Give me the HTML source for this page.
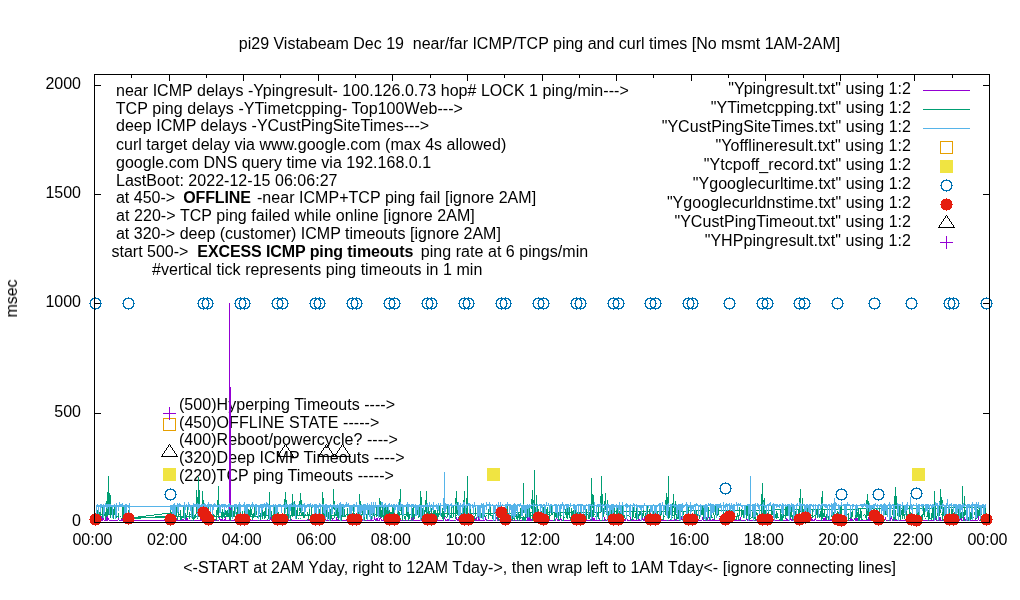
<!DOCTYPE html>
<html><head><meta charset="utf-8"><style>
html,body{margin:0;padding:0;background:#fff;width:1020px;height:600px;overflow:hidden}
svg{display:block}
text{font-family:"Liberation Sans",Arial,sans-serif;font-size:16px;fill:#000}
</style></head><body>
<svg width="1020" height="600" viewBox="0 0 1020 600">
<rect width="1020" height="600" fill="#fff"/>
<defs><path id="oc" d="M-3 -5h1v1h-1zM-3 5h1v1h-1zM-2 -5h1v1h-1zM-2 5h1v1h-1zM-1 -5h1v1h-1zM-1 5h1v1h-1zM0 -5h1v1h-1zM0 5h1v1h-1zM1 -5h1v1h-1zM1 5h1v1h-1zM2 -5h1v1h-1zM2 5h1v1h-1zM3 -5h1v1h-1zM3 5h1v1h-1zM-4 -4h1v1h-1zM-4 4h1v1h-1zM-3 -4h1v1h-1zM-3 4h1v1h-1zM3 -4h1v1h-1zM3 4h1v1h-1zM4 -4h1v1h-1zM4 4h1v1h-1zM-5 -3h1v1h-1zM-5 3h1v1h-1zM-4 -3h1v1h-1zM-4 3h1v1h-1zM4 -3h1v1h-1zM4 3h1v1h-1zM5 -3h1v1h-1zM5 3h1v1h-1zM-5 -2h1v1h-1zM5 -2h1v1h-1zM-5 -1h1v1h-1zM5 -1h1v1h-1zM-5 0h1v1h-1zM5 0h1v1h-1zM-5 1h1v1h-1zM5 1h1v1h-1zM-5 2h1v1h-1zM5 2h1v1h-1zM0 -6h1v1h-1zM0 6h1v1h-1zM-6 0h1v1h-1zM6 0h1v1h-1z"/><path id="fc" d="M-3 -5h1v1h-1zM-3 5h1v1h-1zM-2 -5h1v1h-1zM-2 5h1v1h-1zM-1 -5h1v1h-1zM-1 5h1v1h-1zM0 -5h1v1h-1zM0 5h1v1h-1zM1 -5h1v1h-1zM1 5h1v1h-1zM2 -5h1v1h-1zM2 5h1v1h-1zM3 -5h1v1h-1zM3 5h1v1h-1zM-4 -4h1v1h-1zM-4 4h1v1h-1zM-3 -4h1v1h-1zM-3 4h1v1h-1zM-2 -4h1v1h-1zM-2 4h1v1h-1zM-1 -4h1v1h-1zM-1 4h1v1h-1zM0 -4h1v1h-1zM0 4h1v1h-1zM1 -4h1v1h-1zM1 4h1v1h-1zM2 -4h1v1h-1zM2 4h1v1h-1zM3 -4h1v1h-1zM3 4h1v1h-1zM4 -4h1v1h-1zM4 4h1v1h-1zM-5 -3h1v1h-1zM-4 -3h1v1h-1zM-3 -3h1v1h-1zM-2 -3h1v1h-1zM-1 -3h1v1h-1zM0 -3h1v1h-1zM1 -3h1v1h-1zM2 -3h1v1h-1zM3 -3h1v1h-1zM4 -3h1v1h-1zM5 -3h1v1h-1zM-5 -2h1v1h-1zM-4 -2h1v1h-1zM-3 -2h1v1h-1zM-2 -2h1v1h-1zM-1 -2h1v1h-1zM0 -2h1v1h-1zM1 -2h1v1h-1zM2 -2h1v1h-1zM3 -2h1v1h-1zM4 -2h1v1h-1zM5 -2h1v1h-1zM-5 -1h1v1h-1zM-4 -1h1v1h-1zM-3 -1h1v1h-1zM-2 -1h1v1h-1zM-1 -1h1v1h-1zM0 -1h1v1h-1zM1 -1h1v1h-1zM2 -1h1v1h-1zM3 -1h1v1h-1zM4 -1h1v1h-1zM5 -1h1v1h-1zM-5 0h1v1h-1zM-4 0h1v1h-1zM-3 0h1v1h-1zM-2 0h1v1h-1zM-1 0h1v1h-1zM0 0h1v1h-1zM1 0h1v1h-1zM2 0h1v1h-1zM3 0h1v1h-1zM4 0h1v1h-1zM5 0h1v1h-1zM-5 1h1v1h-1zM-4 1h1v1h-1zM-3 1h1v1h-1zM-2 1h1v1h-1zM-1 1h1v1h-1zM0 1h1v1h-1zM1 1h1v1h-1zM2 1h1v1h-1zM3 1h1v1h-1zM4 1h1v1h-1zM5 1h1v1h-1zM-5 2h1v1h-1zM-4 2h1v1h-1zM-3 2h1v1h-1zM-2 2h1v1h-1zM-1 2h1v1h-1zM0 2h1v1h-1zM1 2h1v1h-1zM2 2h1v1h-1zM3 2h1v1h-1zM4 2h1v1h-1zM5 2h1v1h-1zM-5 3h1v1h-1zM-4 3h1v1h-1zM-3 3h1v1h-1zM-2 3h1v1h-1zM-1 3h1v1h-1zM0 3h1v1h-1zM1 3h1v1h-1zM2 3h1v1h-1zM3 3h1v1h-1zM4 3h1v1h-1zM5 3h1v1h-1zM0 -6h1v1h-1zM0 6h1v1h-1zM-6 0h1v1h-1zM6 0h1v1h-1z"/></defs>
<path d="M95.0 522.5h6M989.0 522.5h-6" stroke="#000" shape-rendering="crispEdges"/>
<path d="M95.0 413.5h6M989.0 413.5h-6" stroke="#000" shape-rendering="crispEdges"/>
<path d="M95.0 303.5h6M989.0 303.5h-6" stroke="#000" shape-rendering="crispEdges"/>
<path d="M95.0 194.5h6M989.0 194.5h-6" stroke="#000" shape-rendering="crispEdges"/>
<path d="M95.0 85.5h6M989.0 85.5h-6" stroke="#000" shape-rendering="crispEdges"/>
<path d="M94.5 522.5v-6M94.5 74.5v6" stroke="#000" shape-rendering="crispEdges"/>
<path d="M131.5 522.5v-3M131.5 74.5v3" stroke="#000" shape-rendering="crispEdges"/>
<path d="M169.5 522.5v-6M169.5 74.5v6" stroke="#000" shape-rendering="crispEdges"/>
<path d="M206.5 522.5v-3M206.5 74.5v3" stroke="#000" shape-rendering="crispEdges"/>
<path d="M243.5 522.5v-6M243.5 74.5v6" stroke="#000" shape-rendering="crispEdges"/>
<path d="M280.5 522.5v-3M280.5 74.5v3" stroke="#000" shape-rendering="crispEdges"/>
<path d="M318.5 522.5v-6M318.5 74.5v6" stroke="#000" shape-rendering="crispEdges"/>
<path d="M355.5 522.5v-3M355.5 74.5v3" stroke="#000" shape-rendering="crispEdges"/>
<path d="M392.5 522.5v-6M392.5 74.5v6" stroke="#000" shape-rendering="crispEdges"/>
<path d="M430.5 522.5v-3M430.5 74.5v3" stroke="#000" shape-rendering="crispEdges"/>
<path d="M467.5 522.5v-6M467.5 74.5v6" stroke="#000" shape-rendering="crispEdges"/>
<path d="M504.5 522.5v-3M504.5 74.5v3" stroke="#000" shape-rendering="crispEdges"/>
<path d="M542.5 522.5v-6M542.5 74.5v6" stroke="#000" shape-rendering="crispEdges"/>
<path d="M579.5 522.5v-3M579.5 74.5v3" stroke="#000" shape-rendering="crispEdges"/>
<path d="M616.5 522.5v-6M616.5 74.5v6" stroke="#000" shape-rendering="crispEdges"/>
<path d="M653.5 522.5v-3M653.5 74.5v3" stroke="#000" shape-rendering="crispEdges"/>
<path d="M691.5 522.5v-6M691.5 74.5v6" stroke="#000" shape-rendering="crispEdges"/>
<path d="M728.5 522.5v-3M728.5 74.5v3" stroke="#000" shape-rendering="crispEdges"/>
<path d="M765.5 522.5v-6M765.5 74.5v6" stroke="#000" shape-rendering="crispEdges"/>
<path d="M803.5 522.5v-3M803.5 74.5v3" stroke="#000" shape-rendering="crispEdges"/>
<path d="M840.5 522.5v-6M840.5 74.5v6" stroke="#000" shape-rendering="crispEdges"/>
<path d="M877.5 522.5v-3M877.5 74.5v3" stroke="#000" shape-rendering="crispEdges"/>
<path d="M914.5 522.5v-6M914.5 74.5v6" stroke="#000" shape-rendering="crispEdges"/>
<path d="M952.5 522.5v-3M952.5 74.5v3" stroke="#000" shape-rendering="crispEdges"/>
<path d="M989.5 522.5v-6M989.5 74.5v6" stroke="#000" shape-rendering="crispEdges"/>
<g style="filter:grayscale(1)">
<text x="539.5" y="48.8" text-anchor="middle" xml:space="preserve">pi29 Vistabeam Dec 19  near/far ICMP/TCP ping and curl times [No msmt 1AM-2AM]</text>
<text transform="translate(17,298.5) rotate(-90)" text-anchor="middle">msec</text>
<text x="81" y="525.9" text-anchor="end" >0</text>
<text x="81" y="416.6" text-anchor="end" >500</text>
<text x="81" y="307.4" text-anchor="end" >1000</text>
<text x="81" y="198.1" text-anchor="end" >1500</text>
<text x="81" y="88.9" text-anchor="end" >2000</text>
<text x="92.5" y="545" text-anchor="middle" >00:00</text>
<text x="167.1" y="545" text-anchor="middle" >02:00</text>
<text x="241.7" y="545" text-anchor="middle" >04:00</text>
<text x="316.2" y="545" text-anchor="middle" >06:00</text>
<text x="390.8" y="545" text-anchor="middle" >08:00</text>
<text x="465.4" y="545" text-anchor="middle" >10:00</text>
<text x="540.0" y="545" text-anchor="middle" >12:00</text>
<text x="614.6" y="545" text-anchor="middle" >14:00</text>
<text x="689.2" y="545" text-anchor="middle" >16:00</text>
<text x="763.8" y="545" text-anchor="middle" >18:00</text>
<text x="838.3" y="545" text-anchor="middle" >20:00</text>
<text x="912.9" y="545" text-anchor="middle" >22:00</text>
<text x="987.5" y="545" text-anchor="middle" >00:00</text>
<text x="539.6" y="573" text-anchor="middle" style="letter-spacing:0.0312px">&lt;-START at 2AM Yday, right to 12AM Tday-&gt;, then wrap left to 1AM Tday&lt;- [ignore connecting lines]</text>
<text x="111.5" y="95.7" text-anchor="start" xml:space="preserve"><tspan style="letter-spacing:0.0358px;"> near ICMP delays -Ypingresult- 100.126.0.73 hop# LOCK 1 ping/min---&gt;</tspan></text>
<text x="111.5" y="113.57" text-anchor="start" xml:space="preserve"><tspan style="letter-spacing:0.0744px;"> TCP ping delays -YTimetcpping- Top100Web---&gt;</tspan></text>
<text x="111.5" y="131.44" text-anchor="start" xml:space="preserve"><tspan style="letter-spacing:0.0385px;"> deep ICMP delays -YCustPingSiteTimes---&gt;</tspan></text>
<text x="111.5" y="150.31" text-anchor="start" xml:space="preserve"><tspan style="letter-spacing:0.0154px;"> curl target delay via www.google.com (max 4s allowed)</tspan></text>
<text x="111.5" y="168.18" text-anchor="start" xml:space="preserve"><tspan style="letter-spacing:0.0300px;"> google.com DNS query time via 192.168.0.1</tspan></text>
<text x="111.5" y="185.95" text-anchor="start" xml:space="preserve"><tspan style="letter-spacing:0.0321px;"> LastBoot: 2022-12-15 06:06:27</tspan></text>
<text x="111.5" y="202.92" text-anchor="start" xml:space="preserve"><tspan> at 450-&gt;  </tspan><tspan font-weight="bold" dx="-0.8" style="letter-spacing:-0.12px">OFFLINE</tspan><tspan style="letter-spacing:0.0444px;" dx="1.64"> -near ICMP+TCP ping fail [ignore 2AM]</tspan></text>
<text x="111.5" y="220.79" text-anchor="start" xml:space="preserve"><tspan style="letter-spacing:0.0633px;"> at 220-&gt; TCP ping failed while online [ignore 2AM]</tspan></text>
<text x="111.5" y="238.66" text-anchor="start" xml:space="preserve"><tspan style="letter-spacing:0.0120px;"> at 320-&gt; deep (customer) ICMP timeouts [ignore 2AM]</tspan></text>
<text x="111.5" y="256.53" text-anchor="start" xml:space="preserve"><tspan>start 500-&gt;  </tspan><tspan font-weight="bold" style="letter-spacing:-0.1px">EXCESS ICMP ping timeouts</tspan><tspan style="letter-spacing:0.0435px;" dx="-1.4">  ping rate at 6 pings/min</tspan></text>
<text x="111.5" y="275.3" text-anchor="start" xml:space="preserve"><tspan style="letter-spacing:0.0479px;">         #vertical tick represents ping timeouts in 1 min</tspan></text>
<text x="911.065" y="93.9" text-anchor="end" style="letter-spacing:0.0654px">"Ypingresult.txt" using 1:2</text>
<text x="911.033" y="112.9" text-anchor="end" style="letter-spacing:0.0333px">"YTimetcpping.txt" using 1:2</text>
<text x="911.033" y="131.9" text-anchor="end" style="letter-spacing:0.0333px">"YCustPingSiteTimes.txt" using 1:2</text>
<text x="911.097" y="150.9" text-anchor="end" style="letter-spacing:0.0966px">"Yofflineresult.txt" using 1:2</text>
<text x="911.048" y="169.9" text-anchor="end" style="letter-spacing:0.0483px">"Ytcpoff_record.txt" using 1:2</text>
<text x="911.047" y="188.9" text-anchor="end" style="letter-spacing:0.0467px">"Ygooglecurltime.txt" using 1:2</text>
<text x="911.045" y="207.9" text-anchor="end" style="letter-spacing:0.0455px">"Ygooglecurldnstime.txt" using 1:2</text>
<text x="911.055" y="226.9" text-anchor="end" style="letter-spacing:0.0548px">"YCustPingTimeout.txt" using 1:2</text>
<text x="911.071" y="245.9" text-anchor="end" style="letter-spacing:0.0714px">"YHPpingresult.txt" using 1:2</text>
<text x="179" y="410.2" text-anchor="start" style="letter-spacing:0.0464px">(500)Hyperping Timeouts ----&gt;</text>
<text x="179" y="427.8" text-anchor="start" style="letter-spacing:0.0542px">(450)OFFLINE STATE -----&gt;</text>
<text x="179" y="445.4" text-anchor="start" style="letter-spacing:0.0464px">(400)Reboot/powercycle? ----&gt;</text>
<text x="179" y="463.0" text-anchor="start" style="letter-spacing:0.0464px">(320)Deep ICMP Timeouts ----&gt;</text>
<text x="179" y="480.6" text-anchor="start" style="letter-spacing:0.0464px">(220)TCP ping Timeouts -----&gt;</text>
</g>
<polyline fill="none" stroke="#9400d3" stroke-width="1" shape-rendering="crispEdges" points="95.50,520.5 96.12,520.5 96.74,520.5 97.36,520.5 97.98,520.5 98.60,520.5 99.22,520.5 99.84,520.5 100.46,520.5 101.08,520.5 101.70,517.4 102.32,518.9 102.94,520.5 103.56,519.4 104.18,520.5 104.80,520.5 105.42,520.5 106.04,520.5 106.66,518.1 107.28,517.1 107.90,520.5 108.52,517.9 109.14,520.5 109.76,520.5 110.38,520.5 111.00,520.5 111.62,520.5 112.24,520.5 112.86,520.5 113.48,520.5 114.10,520.5 114.72,520.5 115.34,520.5 115.96,520.5 116.58,520.5 117.20,520.5 117.82,520.5 118.44,518.8 119.06,520.5 119.68,520.5 120.30,520.5 120.92,520.5 121.54,520.5 122.16,517.1 122.78,520.5 123.40,520.5 124.02,520.5 124.64,520.5 125.26,518.4 125.88,520.5 126.50,520.5 127.12,517.5 127.74,520.5 128.36,520.5 128.98,520.5 129.60,520.5 170.00,520.5 170.62,520.5 171.24,520.5 171.86,520.5 172.48,520.5 173.10,520.5 173.72,520.5 174.34,520.5 174.96,520.5 175.58,520.5 176.20,517.8 176.82,520.5 177.44,520.5 178.06,520.5 178.68,520.5 179.30,520.5 179.92,520.5 180.54,520.5 181.16,520.5 181.78,520.5 182.40,520.5 183.02,519.5 183.64,520.5 184.26,520.5 184.88,520.5 185.50,520.5 186.12,520.5 186.74,516.8 187.36,520.5 187.98,520.5 188.60,520.5 189.22,520.5 189.84,520.5 190.46,520.5 191.08,520.5 191.70,520.5 192.32,520.5 192.94,520.5 193.56,520.5 194.18,520.5 194.80,520.5 195.42,520.5 196.04,520.5 196.66,520.5 197.28,520.5 197.90,520.5 198.52,520.5 199.14,520.5 199.76,520.5 200.38,520.5 201.00,516.6 201.62,520.5 202.24,520.5 202.86,520.5 203.48,520.5 204.10,520.5 204.72,520.5 205.34,520.5 205.96,520.5 206.58,520.5 207.20,517.2 207.82,520.5 208.44,520.5 209.06,520.5 209.68,520.5 210.30,520.5 210.92,520.5 211.54,517.3 212.16,520.5 212.78,517.0 213.40,520.5 214.02,520.5 214.64,520.5 215.26,520.5 215.88,520.5 216.50,520.5 217.12,520.5 217.74,520.5 218.36,520.5 218.98,520.5 219.60,516.6 220.22,520.5 220.84,520.5 221.46,520.5 222.08,518.4 222.70,520.5 223.32,520.5 223.94,520.5 224.56,520.5 225.18,518.1 225.80,520.5 226.42,520.5 227.04,520.5 227.66,520.5 228.28,520.5 228.90,520.5 229.52,520.5 230.14,520.5 230.76,520.5 231.38,520.5 232.00,520.5 232.62,520.5 233.24,520.5 233.86,520.5 234.48,520.5 235.10,520.5 235.72,520.5 236.34,520.5 236.96,518.4 237.58,520.5 238.20,520.5 238.82,520.5 239.44,520.5 240.06,520.5 240.68,520.5 241.30,520.5 241.92,520.5 242.54,518.8 243.16,518.3 243.78,520.5 244.40,520.5 245.02,520.5 245.64,520.5 246.26,520.5 246.88,520.5 247.50,520.5 248.12,517.4 248.74,520.5 249.36,520.5 249.98,520.5 250.60,520.5 251.22,520.5 251.84,520.5 252.46,520.5 253.08,520.5 253.70,520.5 254.32,520.5 254.94,520.5 255.56,520.5 256.18,520.5 256.80,520.5 257.42,520.5 258.04,520.5 258.66,520.5 259.28,520.5 259.90,520.5 260.52,520.5 261.14,520.5 261.76,520.5 262.38,520.5 263.00,520.5 263.62,520.5 264.24,520.5 264.86,520.5 265.48,520.5 266.10,520.5 266.72,520.5 267.34,520.5 267.96,520.5 268.58,520.5 269.20,520.5 269.82,520.5 270.44,516.6 271.06,520.5 271.68,518.6 272.30,520.5 272.92,520.5 273.54,520.5 274.16,516.9 274.78,520.5 275.40,519.0 276.02,520.5 276.64,520.5 277.26,518.4 277.88,520.5 278.50,520.5 279.12,520.5 279.74,520.5 280.36,520.5 280.98,520.5 281.60,520.5 282.22,520.5 282.84,520.5 283.46,517.9 284.08,520.5 284.70,520.5 285.32,520.5 285.94,520.5 286.56,520.5 287.18,520.5 287.80,520.5 288.42,520.5 289.04,520.5 289.66,520.5 290.28,520.5 290.90,519.3 291.52,520.5 292.14,520.5 292.76,520.5 293.38,520.5 294.00,520.5 294.62,520.5 295.24,520.5 295.86,520.5 296.48,520.5 297.10,520.5 297.72,520.5 298.34,520.5 298.96,520.5 299.58,520.5 300.20,520.5 300.82,520.5 301.44,520.5 302.06,520.5 302.68,520.5 303.30,520.5 303.92,520.5 304.54,520.5 305.16,520.5 305.78,520.5 306.40,520.5 307.02,520.5 307.64,520.5 308.26,517.8 308.88,520.5 309.50,520.5 310.12,520.5 310.74,518.9 311.36,518.9 311.98,520.5 312.60,520.5 313.22,520.5 313.84,520.5 314.46,520.5 315.08,520.5 315.70,520.5 316.32,520.5 316.94,520.5 317.56,520.5 318.18,520.5 318.80,520.5 319.42,517.2 320.04,520.5 320.66,520.5 321.28,520.5 321.90,520.5 322.52,520.5 323.14,520.5 323.76,520.5 324.38,520.5 325.00,520.5 325.62,520.5 326.24,520.5 326.86,520.5 327.48,520.5 328.10,520.5 328.72,520.5 329.34,520.5 329.96,520.5 330.58,520.5 331.20,520.5 331.82,520.5 332.44,519.4 333.06,520.5 333.68,520.5 334.30,520.5 334.92,520.5 335.54,520.5 336.16,520.5 336.78,518.1 337.40,520.5 338.02,520.5 338.64,520.5 339.26,520.5 339.88,520.5 340.50,520.5 341.12,520.5 341.74,520.5 342.36,520.5 342.98,520.5 343.60,520.5 344.22,520.5 344.84,520.5 345.46,520.5 346.08,520.5 346.70,520.5 347.32,517.1 347.94,520.5 348.56,520.5 349.18,520.5 349.80,520.5 350.42,520.5 351.04,518.7 351.66,520.5 352.28,520.5 352.90,520.5 353.52,520.5 354.14,520.5 354.76,520.5 355.38,520.5 356.00,520.5 356.62,520.5 357.24,520.5 357.86,520.5 358.48,520.5 359.10,520.5 359.72,520.5 360.34,520.5 360.96,520.5 361.58,520.5 362.20,520.5 362.82,520.5 363.44,520.5 364.06,520.5 364.68,520.5 365.30,520.5 365.92,520.5 366.54,520.5 367.16,520.5 367.78,520.5 368.40,520.5 369.02,520.5 369.64,520.5 370.26,520.5 370.88,519.0 371.50,520.5 372.12,520.5 372.74,520.5 373.36,520.5 373.98,520.5 374.60,517.1 375.22,520.5 375.84,520.5 376.46,520.5 377.08,518.0 377.70,520.5 378.32,520.5 378.94,520.5 379.56,520.5 380.18,516.8 380.80,518.2 381.42,520.5 382.04,520.5 382.66,520.5 383.28,520.5 383.90,520.5 384.52,520.5 385.14,520.5 385.76,520.5 386.38,516.7 387.00,520.5 387.62,520.5 388.24,520.5 388.86,520.5 389.48,520.5 390.10,520.5 390.72,520.5 391.34,520.5 391.96,518.6 392.58,520.5 393.20,520.5 393.82,520.5 394.44,520.5 395.06,520.5 395.68,520.5 396.30,520.5 396.92,520.5 397.54,519.2 398.16,520.5 398.78,520.5 399.40,520.5 400.02,520.5 400.64,520.5 401.26,520.5 401.88,520.5 402.50,520.5 403.12,520.5 403.74,520.5 404.36,520.5 404.98,520.5 405.60,520.5 406.22,520.5 406.84,520.5 407.46,520.5 408.08,520.5 408.70,520.5 409.32,520.5 409.94,520.5 410.56,520.5 411.18,520.5 411.80,517.5 412.42,520.5 413.04,517.6 413.66,520.5 414.28,520.5 414.90,520.5 415.52,520.5 416.14,520.5 416.76,520.5 417.38,520.5 418.00,520.5 418.62,520.5 419.24,520.5 419.86,520.5 420.48,520.5 421.10,520.5 421.72,520.5 422.34,520.5 422.96,518.3 423.58,520.5 424.20,520.5 424.82,520.5 425.44,517.1 426.06,520.5 426.68,517.3 427.30,520.5 427.92,520.5 428.54,520.5 429.16,520.5 429.78,520.5 430.40,520.5 431.02,520.5 431.64,520.5 432.26,518.3 432.88,520.5 433.50,519.3 434.12,520.5 434.74,520.5 435.36,520.5 435.98,520.5 436.60,520.5 437.22,519.3 437.84,520.5 438.46,520.5 439.08,520.5 439.70,520.5 440.32,520.5 440.94,520.5 441.56,520.5 442.18,520.5 442.80,520.5 443.42,520.5 444.04,517.2 444.66,517.0 445.28,520.5 445.90,520.5 446.52,520.5 447.14,520.5 447.76,519.5 448.38,520.5 449.00,519.2 449.62,520.5 450.24,520.5 450.86,520.5 451.48,520.5 452.10,520.5 452.72,520.5 453.34,520.5 453.96,520.5 454.58,520.5 455.20,520.5 455.82,520.5 456.44,518.4 457.06,520.5 457.68,520.5 458.30,518.1 458.92,520.5 459.54,520.5 460.16,520.5 460.78,520.5 461.40,520.5 462.02,520.5 462.64,520.5 463.26,520.5 463.88,520.5 464.50,520.5 465.12,520.5 465.74,520.5 466.36,520.5 466.98,519.2 467.60,520.5 468.22,520.5 468.84,520.5 469.46,520.5 470.08,520.5 470.70,520.5 471.32,520.5 471.94,520.5 472.56,520.5 473.18,520.5 473.80,520.5 474.42,520.5 475.04,520.5 475.66,520.5 476.28,516.7 476.90,520.5 477.52,520.5 478.14,520.5 478.76,518.1 479.38,516.8 480.00,520.5 480.62,520.5 481.24,520.5 481.86,520.5 482.48,520.5 483.10,520.5 483.72,520.5 484.34,520.5 484.96,520.5 485.58,516.9 486.20,520.5 486.82,520.5 487.44,520.5 488.06,520.5 488.68,520.5 489.30,520.5 489.92,520.5 490.54,520.5 491.16,520.5 491.78,520.5 492.40,520.5 493.02,520.5 493.64,520.5 494.26,520.5 494.88,520.5 495.50,520.5 496.12,519.1 496.74,516.7 497.36,520.5 497.98,520.5 498.60,520.5 499.22,520.5 499.84,520.5 500.46,517.1 501.08,520.5 501.70,517.4 502.32,520.5 502.94,520.5 503.56,520.5 504.18,520.5 504.80,520.5 505.42,520.5 506.04,520.5 506.66,518.6 507.28,520.5 507.90,520.5 508.52,520.5 509.14,520.5 509.76,520.5 510.38,520.5 511.00,520.5 511.62,520.5 512.24,520.5 512.86,520.5 513.48,520.5 514.10,520.5 514.72,520.5 515.34,520.5 515.96,520.5 516.58,520.5 517.20,520.5 517.82,520.5 518.44,520.5 519.06,520.5 519.68,520.5 520.30,520.5 520.92,520.5 521.54,520.5 522.16,520.5 522.78,520.5 523.40,520.5 524.02,518.0 524.64,520.5 525.26,520.5 525.88,520.5 526.50,520.5 527.12,520.5 527.74,518.1 528.36,520.5 528.98,516.7 529.60,520.5 530.22,520.5 530.84,518.4 531.46,520.5 532.08,520.5 532.70,520.5 533.32,520.5 533.94,520.5 534.56,520.5 535.18,520.5 535.80,520.5 536.42,520.5 537.04,520.5 537.66,520.5 538.28,520.5 538.90,520.5 539.52,520.5 540.14,520.5 540.76,520.5 541.38,520.5 542.00,520.5 542.62,520.5 543.24,520.5 543.86,520.5 544.48,520.5 545.10,520.5 545.72,520.5 546.34,520.5 546.96,520.5 547.58,520.5 548.20,520.5 548.82,520.5 549.44,520.5 550.06,520.5 550.68,520.5 551.30,520.5 551.92,520.5 552.54,520.5 553.16,520.5 553.78,520.5 554.40,520.5 555.02,520.5 555.64,520.5 556.26,517.4 556.88,518.4 557.50,520.5 558.12,520.5 558.74,517.9 559.36,520.5 559.98,520.5 560.60,516.8 561.22,520.5 561.84,520.5 562.46,520.5 563.08,520.5 563.70,520.5 564.32,520.5 564.94,520.5 565.56,520.5 566.18,520.5 566.80,520.5 567.42,520.5 568.04,520.5 568.66,520.5 569.28,520.5 569.90,520.5 570.52,520.5 571.14,520.5 571.76,520.5 572.38,520.5 573.00,520.5 573.62,520.5 574.24,520.5 574.86,519.3 575.48,520.5 576.10,520.5 576.72,520.5 577.34,520.5 577.96,520.5 578.58,520.5 579.20,520.5 579.82,520.5 580.44,517.9 581.06,520.5 581.68,520.5 582.30,520.5 582.92,520.5 583.54,520.5 584.16,520.5 584.78,520.5 585.40,520.5 586.02,520.5 586.64,520.5 587.26,520.5 587.88,520.5 588.50,520.5 589.12,520.5 589.74,520.5 590.36,520.5 590.98,519.0 591.60,520.5 592.22,520.5 592.84,517.3 593.46,520.5 594.08,517.9 594.70,520.5 595.32,520.5 595.94,520.5 596.56,520.5 597.18,520.5 597.80,520.5 598.42,520.5 599.04,520.5 599.66,519.0 600.28,520.5 600.90,520.5 601.52,520.5 602.14,520.5 602.76,520.5 603.38,520.5 604.00,520.5 604.62,517.4 605.24,520.5 605.86,520.5 606.48,520.5 607.10,520.5 607.72,517.7 608.34,520.5 608.96,520.5 609.58,520.5 610.20,520.5 610.82,517.6 611.44,520.5 612.06,520.5 612.68,520.5 613.30,520.5 613.92,519.5 614.54,520.5 615.16,520.5 615.78,520.5 616.40,520.5 617.02,520.5 617.64,520.5 618.26,520.5 618.88,520.5 619.50,520.5 620.12,520.5 620.74,520.5 621.36,520.5 621.98,520.5 622.60,520.5 623.22,520.5 623.84,520.5 624.46,520.5 625.08,520.5 625.70,520.5 626.32,516.9 626.94,518.5 627.56,520.5 628.18,520.5 628.80,520.5 629.42,520.5 630.04,520.5 630.66,517.2 631.28,520.5 631.90,520.5 632.52,520.5 633.14,519.3 633.76,520.5 634.38,520.5 635.00,520.5 635.62,520.5 636.24,520.5 636.86,520.5 637.48,520.5 638.10,520.5 638.72,517.7 639.34,520.5 639.96,520.5 640.58,520.5 641.20,520.5 641.82,520.5 642.44,517.5 643.06,520.5 643.68,520.5 644.30,517.6 644.92,520.5 645.54,520.5 646.16,520.5 646.78,520.5 647.40,520.5 648.02,520.5 648.64,520.5 649.26,520.5 649.88,520.5 650.50,520.5 651.12,520.5 651.74,520.5 652.36,520.5 652.98,520.5 653.60,520.5 654.22,520.5 654.84,520.5 655.46,520.5 656.08,520.5 656.70,520.5 657.32,517.2 657.94,520.5 658.56,520.5 659.18,520.5 659.80,520.5 660.42,520.5 661.04,520.5 661.66,520.5 662.28,520.5 662.90,520.5 663.52,520.5 664.14,520.5 664.76,520.5 665.38,520.5 666.00,520.5 666.62,520.5 667.24,520.5 667.86,520.5 668.48,520.5 669.10,520.5 669.72,520.5 670.34,520.5 670.96,520.5 671.58,520.5 672.20,520.5 672.82,520.5 673.44,520.5 674.06,520.5 674.68,516.6 675.30,520.5 675.92,520.5 676.54,520.5 677.16,520.5 677.78,520.5 678.40,520.5 679.02,520.5 679.64,520.5 680.26,520.5 680.88,520.5 681.50,517.1 682.12,520.5 682.74,520.5 683.36,520.5 683.98,520.5 684.60,520.5 685.22,520.5 685.84,520.5 686.46,520.5 687.08,520.5 687.70,520.5 688.32,518.5 688.94,520.5 689.56,520.5 690.18,520.5 690.80,520.5 691.42,520.5 692.04,520.5 692.66,520.5 693.28,520.5 693.90,520.5 694.52,520.5 695.14,520.5 695.76,520.5 696.38,520.5 697.00,520.5 697.62,520.5 698.24,520.5 698.86,520.5 699.48,520.5 700.10,520.5 700.72,520.5 701.34,520.5 701.96,520.5 702.58,518.7 703.20,520.5 703.82,520.5 704.44,520.5 705.06,520.5 705.68,520.5 706.30,520.5 706.92,516.9 707.54,520.5 708.16,520.5 708.78,520.5 709.40,518.6 710.02,520.5 710.64,520.5 711.26,520.5 711.88,520.5 712.50,520.5 713.12,519.2 713.74,520.5 714.36,520.5 714.98,520.5 715.60,520.5 716.22,520.5 716.84,520.5 717.46,520.5 718.08,520.5 718.70,520.5 719.32,518.9 719.94,520.5 720.56,520.5 721.18,520.5 721.80,517.2 722.42,520.5 723.04,520.5 723.66,519.2 724.28,520.5 724.90,520.5 725.52,520.5 726.14,520.5 726.76,516.6 727.38,520.5 728.00,520.5 728.62,520.5 729.24,520.5 729.86,520.5 730.48,520.5 731.10,520.5 731.72,520.5 732.34,520.5 732.96,520.5 733.58,520.5 734.20,520.5 734.82,520.5 735.44,520.5 736.06,520.5 736.68,520.5 737.30,520.5 737.92,520.5 738.54,520.5 739.16,520.5 739.78,520.5 740.40,516.8 741.02,520.5 741.64,520.5 742.26,520.5 742.88,520.5 743.50,520.5 744.12,520.5 744.74,520.5 745.36,520.5 745.98,520.5 746.60,517.2 747.22,520.5 747.84,520.5 748.46,520.5 749.08,520.5 749.70,520.5 750.32,520.5 750.94,520.5 751.56,520.5 752.18,520.5 752.80,520.5 753.42,520.5 754.04,520.5 754.66,520.5 755.28,520.5 755.90,520.5 756.52,520.5 757.14,520.5 757.76,519.4 758.38,520.5 759.00,520.5 759.62,520.5 760.24,518.3 760.86,520.5 761.48,520.5 762.10,520.5 762.72,517.4 763.34,520.5 763.96,520.5 764.58,520.5 765.20,520.5 765.82,520.5 766.44,520.5 767.06,520.5 767.68,517.9 768.30,520.5 768.92,520.5 769.54,520.5 770.16,520.5 770.78,520.5 771.40,520.5 772.02,520.5 772.64,520.5 773.26,520.5 773.88,520.5 774.50,520.5 775.12,520.5 775.74,520.5 776.36,520.5 776.98,520.5 777.60,520.5 778.22,520.5 778.84,520.5 779.46,520.5 780.08,520.5 780.70,520.5 781.32,520.5 781.94,520.5 782.56,520.5 783.18,520.5 783.80,520.5 784.42,520.5 785.04,520.5 785.66,520.5 786.28,520.5 786.90,518.3 787.52,520.5 788.14,520.5 788.76,520.5 789.38,520.5 790.00,520.5 790.62,518.0 791.24,520.5 791.86,520.5 792.48,520.5 793.10,520.5 793.72,519.2 794.34,520.5 794.96,520.5 795.58,520.5 796.20,520.5 796.82,520.5 797.44,520.5 798.06,517.4 798.68,520.5 799.30,520.5 799.92,520.5 800.54,520.5 801.16,519.0 801.78,520.5 802.40,520.5 803.02,520.5 803.64,520.5 804.26,520.5 804.88,520.5 805.50,517.7 806.12,520.5 806.74,520.5 807.36,520.5 807.98,518.0 808.60,520.5 809.22,520.5 809.84,520.5 810.46,520.5 811.08,520.5 811.70,517.2 812.32,520.5 812.94,520.5 813.56,520.5 814.18,520.5 814.80,520.5 815.42,516.6 816.04,520.5 816.66,520.5 817.28,520.5 817.90,520.5 818.52,520.5 819.14,520.5 819.76,520.5 820.38,520.5 821.00,520.5 821.62,520.5 822.24,520.5 822.86,520.5 823.48,520.5 824.10,517.7 824.72,520.5 825.34,517.5 825.96,520.5 826.58,520.5 827.20,520.5 827.82,520.5 828.44,520.5 829.06,520.5 829.68,520.5 830.30,520.5 830.92,520.5 831.54,520.5 832.16,520.5 832.78,520.5 833.40,520.5 834.02,520.5 834.64,520.5 835.26,520.5 835.88,520.5 836.50,520.5 837.12,520.5 837.74,520.5 838.36,520.5 838.98,520.5 839.60,520.5 840.22,520.5 840.84,518.6 841.46,520.5 842.08,520.5 842.70,517.0 843.32,520.5 843.94,520.5 844.56,520.5 845.18,520.5 845.80,520.5 846.42,520.5 847.04,520.5 847.66,520.5 848.28,520.5 848.90,520.5 849.52,520.5 850.14,520.5 850.76,517.5 851.38,520.5 852.00,519.1 852.62,520.5 853.24,520.5 853.86,520.5 854.48,517.7 855.10,520.5 855.72,517.0 856.34,520.5 856.96,517.4 857.58,520.5 858.20,520.5 858.82,520.5 859.44,520.5 860.06,520.5 860.68,520.5 861.30,520.5 861.92,520.5 862.54,520.5 863.16,520.5 863.78,520.5 864.40,520.5 865.02,520.5 865.64,520.5 866.26,520.5 866.88,520.5 867.50,520.5 868.12,520.5 868.74,516.6 869.36,520.5 869.98,520.5 870.60,520.5 871.22,520.5 871.84,520.5 872.46,520.5 873.08,520.5 873.70,520.5 874.32,520.5 874.94,520.5 875.56,520.5 876.18,520.5 876.80,520.5 877.42,520.5 878.04,517.8 878.66,520.5 879.28,517.7 879.90,520.5 880.52,520.5 881.14,520.5 881.76,520.5 882.38,520.5 883.00,520.5 883.62,520.5 884.24,520.5 884.86,520.5 885.48,517.5 886.10,520.5 886.72,520.5 887.34,520.5 887.96,520.5 888.58,520.5 889.20,520.5 889.82,517.7 890.44,520.5 891.06,517.7 891.68,518.0 892.30,520.5 892.92,520.5 893.54,520.5 894.16,520.5 894.78,517.5 895.40,520.5 896.02,520.5 896.64,520.5 897.26,520.5 897.88,520.5 898.50,520.5 899.12,520.5 899.74,520.5 900.36,520.5 900.98,520.5 901.60,520.5 902.22,520.5 902.84,520.5 903.46,520.5 904.08,520.5 904.70,520.5 905.32,520.5 905.94,520.5 906.56,520.5 907.18,520.5 907.80,520.5 908.42,516.9 909.04,520.5 909.66,520.5 910.28,520.5 910.90,520.5 911.52,520.5 912.14,520.5 912.76,520.5 913.38,520.5 914.00,520.5 914.62,518.1 915.24,520.5 915.86,520.5 916.48,520.5 917.10,520.5 917.72,520.5 918.34,520.5 918.96,520.5 919.58,520.5 920.20,520.5 920.82,520.5 921.44,520.5 922.06,520.5 922.68,520.5 923.30,520.5 923.92,520.5 924.54,520.5 925.16,520.5 925.78,520.5 926.40,520.5 927.02,520.5 927.64,520.5 928.26,520.5 928.88,520.5 929.50,520.5 930.12,520.5 930.74,520.5 931.36,520.5 931.98,520.5 932.60,520.5 933.22,520.5 933.84,520.5 934.46,520.5 935.08,516.7 935.70,518.6 936.32,517.9 936.94,520.5 937.56,520.5 938.18,520.5 938.80,520.5 939.42,520.5 940.04,517.3 940.66,520.5 941.28,520.5 941.90,520.5 942.52,520.5 943.14,520.5 943.76,520.5 944.38,520.5 945.00,520.5 945.62,520.5 946.24,520.5 946.86,520.5 947.48,520.5 948.10,520.5 948.72,520.5 949.34,520.5 949.96,520.5 950.58,520.5 951.20,520.5 951.82,520.5 952.44,520.5 953.06,520.5 953.68,520.5 954.30,518.3 954.92,520.5 955.54,520.5 956.16,520.5 956.78,520.5 957.40,520.5 958.02,520.5 958.64,520.5 959.26,520.5 959.88,520.5 960.50,518.6 961.12,516.6 961.74,520.5 962.36,520.5 962.98,520.5 963.60,520.5 964.22,520.5 964.84,518.1 965.46,520.5 966.08,520.5 966.70,520.5 967.32,520.5 967.94,520.5 968.56,520.5 969.18,520.5 969.80,520.5 970.42,520.5 971.04,520.5 971.66,520.5 972.28,520.5 972.90,520.5 973.52,520.5 974.14,520.5 974.76,520.5 975.38,519.3 976.00,520.5 976.62,520.5 977.24,520.5 977.86,520.5 978.48,518.2 979.10,520.5 979.72,520.5 980.34,520.5 980.96,520.5 981.58,520.5 982.20,520.5 982.82,520.5 983.44,516.7 984.06,520.5 984.68,520.5 985.30,517.0"/>
<polyline points="229.3,520.5 229.7,303.5 230.5,520.5" fill="none" stroke="#9400d3" stroke-width="1" shape-rendering="crispEdges"/>
<path d="M96.5 512V518M97.5 510V521M98.5 510V517M99.5 512V515M100.5 506V517M101.5 514V515M102.5 507V518M103.5 509V518M104.5 507V516M105.5 512V520M106.5 512V517M107.5 512V516M108.5 512V515M109.5 514V515M110.5 512V518M111.5 507V515M112.5 515V516M113.5 509V519M114.5 506V515M115.5 506V516M116.5 506V518M117.5 516V517M118.5 513V518M119.5 520V521M120.5 516V517M121.5 518V519M122.5 506V518M123.5 506V516M124.5 520V521M125.5 514V521M126.5 509V519M127.5 516V517M128.5 510V518M129.5 513V519M170.5 507V515M171.5 512V520M172.5 512V520M173.5 514V515M174.5 508V515M175.5 509V518M176.5 507V517M177.5 517V520M178.5 506V517M179.5 514V515M180.5 510V520M181.5 517V520M182.5 517V518M183.5 506V518M184.5 516V517M185.5 513V520M186.5 515V518M187.5 506V515M188.5 516V517M189.5 512V519M190.5 514V515M191.5 520V521M192.5 507V519M193.5 516V521M194.5 515V519M195.5 514V518M196.5 516V517M197.5 518V519M198.5 513V517M199.5 514V517M200.5 513V519M201.5 517V518M202.5 514V518M203.5 512V519M204.5 510V518M205.5 519V520M206.5 517V518M207.5 514V521M208.5 507V515M209.5 520V521M210.5 515V516M211.5 516V520M212.5 510V521M213.5 514V520M214.5 515V516M215.5 519V520M216.5 510V521M217.5 510V515M218.5 506V518M219.5 519V520M220.5 516V517M221.5 512V518M222.5 509V519M223.5 512V517M224.5 513V518M225.5 510V515M226.5 511V517M227.5 510V517M228.5 511V516M229.5 509V519M230.5 510V521M231.5 506V516M232.5 507V515M233.5 511V517M234.5 506V516M235.5 516V517M236.5 512V517M237.5 506V518M238.5 506V515M239.5 515V516M240.5 506V515M241.5 515V520M242.5 511V521M243.5 516V517M244.5 508V515M245.5 508V520M246.5 514V515M247.5 508V517M248.5 509V517M249.5 510V516M250.5 506V516M251.5 509V515M252.5 514V520M253.5 513V518M254.5 506V516M255.5 513V517M256.5 511V515M257.5 517V518M258.5 520V521M259.5 515V516M260.5 513V520M261.5 513V517M262.5 507V519M263.5 512V515M264.5 511V519M265.5 508V518M266.5 506V515M267.5 519V520M268.5 509V519M269.5 506V517M270.5 512V517M271.5 511V519M272.5 520V521M273.5 513V521M274.5 506V517M275.5 519V520M276.5 506V518M277.5 515V518M278.5 512V515M279.5 515V516M280.5 517V518M281.5 516V517M282.5 519V520M283.5 520V521M284.5 510V521M285.5 517V518M286.5 514V521M287.5 506V519M288.5 509V519M289.5 510V515M290.5 516V521M291.5 506V515M292.5 506V517M293.5 506V515M294.5 506V515M295.5 514V518M296.5 510V519M297.5 506V515M298.5 518V519M299.5 512V515M300.5 518V519M301.5 506V515M302.5 512V515M303.5 512V518M304.5 506V518M305.5 514V515M306.5 520V521M307.5 512V515M308.5 514V520M309.5 507V516M310.5 517V518M311.5 506V518M312.5 514V520M313.5 514V520M314.5 518V519M315.5 516V517M316.5 516V517M317.5 514V515M318.5 519V520M319.5 509V520M320.5 506V515M321.5 520V521M322.5 508V520M323.5 512V519M324.5 511V519M325.5 516V519M326.5 506V517M327.5 519V520M328.5 512V519M329.5 511V517M330.5 509V521M331.5 506V519M332.5 515V516M333.5 518V519M334.5 512V518M335.5 514V515M336.5 506V515M337.5 506V518M338.5 510V520M339.5 510V517M340.5 512V516M341.5 508V521M342.5 507V517M343.5 510V517M344.5 509V517M345.5 516V517M346.5 519V520M347.5 508V519M348.5 518V519M349.5 509V518M350.5 510V516M351.5 509V521M352.5 519V520M353.5 506V519M354.5 513V521M355.5 515V520M356.5 520V521M357.5 512V521M358.5 506V516M359.5 513V520M360.5 507V520M361.5 514V517M362.5 507V515M363.5 507V519M364.5 514V520M365.5 520V521M366.5 514V519M367.5 506V516M368.5 507V515M369.5 510V516M370.5 506V516M371.5 516V519M372.5 506V515M373.5 508V516M374.5 513V517M375.5 520V521M376.5 506V517M377.5 515V516M378.5 513V518M379.5 506V517M380.5 506V517M381.5 510V518M382.5 506V517M383.5 510V520M384.5 506V516M385.5 506V516M386.5 507V520M387.5 506V515M388.5 506V515M389.5 510V521M390.5 512V520M391.5 512V520M392.5 506V516M393.5 508V519M394.5 506V517M395.5 517V518M396.5 514V515M397.5 512V516M398.5 511V517M399.5 512V516M400.5 518V519M401.5 506V515M402.5 509V521M403.5 515V516M404.5 516V519M405.5 516V521M406.5 506V516M407.5 511V517M408.5 508V521M409.5 514V519M410.5 520V521M411.5 517V518M412.5 508V521M413.5 506V517M414.5 515V519M415.5 506V515M416.5 515V516M417.5 506V515M418.5 506V518M419.5 506V517M420.5 518V519M421.5 509V520M422.5 508V516M423.5 515V520M424.5 510V521M425.5 514V515M426.5 506V515M427.5 509V517M428.5 506V515M429.5 511V517M430.5 513V519M431.5 508V521M432.5 519V520M433.5 511V517M434.5 510V517M435.5 510V518M436.5 514V519M437.5 510V519M438.5 513V517M439.5 506V515M440.5 508V516M441.5 513V517M442.5 508V519M443.5 511V521M444.5 508V517M445.5 516V517M446.5 517V518M447.5 506V517M448.5 512V515M449.5 512V519M450.5 515V518M451.5 507V518M452.5 517V518M453.5 506V517M454.5 520V521M455.5 510V519M456.5 515V516M457.5 506V515M458.5 517V518M459.5 512V516M460.5 507V518M461.5 513V518M462.5 515V516M463.5 510V517M464.5 520V521M465.5 512V519M466.5 516V517M467.5 507V520M468.5 515V516M469.5 516V519M470.5 507V520M471.5 519V520M472.5 517V518M473.5 506V515M474.5 516V521M475.5 508V516M476.5 518V519M477.5 517V518M478.5 514V517M479.5 516V519M480.5 517V518M481.5 514V518M482.5 506V515M483.5 509V516M484.5 506V517M485.5 516V517M486.5 515V516M487.5 520V521M488.5 509V519M489.5 514V515M490.5 506V516M491.5 515V516M492.5 515V519M493.5 519V520M494.5 520V521M495.5 512V515M496.5 515V516M497.5 512V519M498.5 515V521M499.5 513V518M500.5 513V517M501.5 507V518M502.5 515V518M503.5 512V520M504.5 507V517M505.5 515V521M506.5 513V521M507.5 506V516M508.5 517V518M509.5 508V519M510.5 515V516M511.5 510V519M512.5 512V521M513.5 516V519M514.5 517V521M515.5 506V517M516.5 514V519M517.5 515V521M518.5 513V518M519.5 514V521M520.5 508V519M521.5 517V518M522.5 517V521M523.5 516V520M524.5 517V521M525.5 508V521M526.5 513V518M527.5 506V517M528.5 514V515M529.5 506V517M530.5 512V519M531.5 515V516M532.5 514V521M533.5 510V516M534.5 514V515M535.5 507V519M536.5 515V520M537.5 506V515M538.5 509V520M539.5 514V515M540.5 506V518M541.5 511V515M542.5 518V519M543.5 507V518M544.5 513V519M545.5 512V520M546.5 509V519M547.5 507V520M548.5 514V515M549.5 509V520M550.5 515V516M551.5 506V515M552.5 506V515M553.5 520V521M554.5 512V521M555.5 506V517M556.5 512V518M557.5 508V518M558.5 512V520M559.5 519V520M560.5 506V518M561.5 515V516M562.5 520V521M563.5 516V521M564.5 517V518M565.5 509V515M566.5 512V518M567.5 507V519M568.5 506V515M569.5 507V518M570.5 517V521M571.5 508V518M572.5 511V520M573.5 510V521M574.5 506V517M575.5 506V517M576.5 518V519M577.5 513V518M578.5 506V516M579.5 513V517M580.5 511V519M581.5 518V521M582.5 514V515M583.5 512V515M584.5 514V515M585.5 510V521M586.5 509V519M587.5 514V515M588.5 506V519M589.5 513V519M590.5 506V517M591.5 509V521M592.5 510V517M593.5 510V517M594.5 514V515M595.5 516V517M596.5 518V519M597.5 512V517M598.5 507V519M599.5 518V519M600.5 520V521M601.5 520V521M602.5 509V519M603.5 508V517M604.5 520V521M605.5 519V520M606.5 514V515M607.5 512V517M608.5 512V517M609.5 517V518M610.5 510V518M611.5 509V518M612.5 515V516M613.5 513V520M614.5 506V516M615.5 519V520M616.5 506V515M617.5 506V517M618.5 513V518M619.5 512V519M620.5 509V520M621.5 511V518M622.5 506V518M623.5 512V518M624.5 515V518M625.5 518V519M626.5 517V518M627.5 515V516M628.5 515V516M629.5 516V517M630.5 520V521M631.5 519V520M632.5 508V520M633.5 507V517M634.5 517V518M635.5 513V518M636.5 507V520M637.5 512V519M638.5 514V519M639.5 512V516M640.5 511V515M641.5 520V521M642.5 513V518M643.5 510V516M644.5 516V517M645.5 513V518M646.5 507V517M647.5 506V518M648.5 519V520M649.5 509V517M650.5 520V521M651.5 520V521M652.5 506V515M653.5 511V518M654.5 506V517M655.5 519V520M656.5 512V519M657.5 511V516M658.5 520V521M659.5 507V515M660.5 512V516M661.5 511V515M662.5 519V520M663.5 515V520M664.5 516V517M665.5 506V515M666.5 511V516M667.5 520V521M668.5 510V519M669.5 507V518M670.5 519V520M671.5 516V517M672.5 517V518M673.5 515V516M674.5 507V519M675.5 520V521M676.5 514V520M677.5 506V519M678.5 510V519M679.5 518V521M680.5 517V518M681.5 516V517M682.5 517V521M683.5 511V515M684.5 517V518M685.5 516V517M686.5 515V516M687.5 508V518M688.5 506V515M689.5 516V517M690.5 517V518M691.5 515V521M692.5 518V519M693.5 514V517M694.5 510V521M695.5 519V520M696.5 511V519M697.5 514V521M698.5 519V520M699.5 515V519M700.5 515V516M701.5 511V515M702.5 506V515M703.5 507V520M704.5 506V517M705.5 510V516M706.5 518V521M707.5 515V519M708.5 507V518M709.5 519V520M710.5 519V520M711.5 512V518M712.5 517V518M713.5 509V515M714.5 515V520M715.5 506V515M716.5 507V515M717.5 506V516M718.5 507V515M719.5 516V517M720.5 518V521M721.5 518V521M722.5 519V520M723.5 509V520M724.5 515V516M725.5 514V515M726.5 520V521M727.5 506V516M728.5 519V520M729.5 516V517M730.5 519V520M731.5 517V521M732.5 514V515M733.5 520V521M734.5 507V517M735.5 519V520M736.5 516V520M737.5 513V517M738.5 515V520M739.5 507V516M740.5 520V521M741.5 509V517M742.5 510V515M743.5 511V518M744.5 506V515M745.5 520V521M746.5 506V519M747.5 506V516M748.5 511V516M749.5 512V520M750.5 518V519M751.5 517V518M752.5 510V518M753.5 517V521M754.5 510V519M755.5 517V521M756.5 512V515M757.5 513V519M758.5 520V521M759.5 519V520M760.5 515V518M761.5 509V518M762.5 517V518M763.5 514V520M764.5 512V521M765.5 511V521M766.5 514V515M767.5 519V520M768.5 507V520M769.5 517V518M770.5 514V520M771.5 506V515M772.5 506V515M773.5 510V515M774.5 515V521M775.5 514V518M776.5 511V519M777.5 513V518M778.5 517V518M779.5 519V520M780.5 509V521M781.5 514V521M782.5 516V521M783.5 508V518M784.5 515V516M785.5 507V519M786.5 506V516M787.5 506V516M788.5 514V515M789.5 506V518M790.5 507V518M791.5 506V517M792.5 515V520M793.5 520V521M794.5 520V521M795.5 511V520M796.5 508V517M797.5 518V519M798.5 509V517M799.5 506V518M800.5 519V520M801.5 506V515M802.5 520V521M803.5 510V520M804.5 520V521M805.5 506V516M806.5 515V518M807.5 508V519M808.5 520V521M809.5 510V515M810.5 506V515M811.5 515V516M812.5 509V518M813.5 516V517M814.5 515V516M815.5 511V518M816.5 509V515M817.5 507V518M818.5 506V516M819.5 514V518M820.5 511V517M821.5 514V521M822.5 507V519M823.5 513V517M824.5 509V517M825.5 516V517M826.5 514V520M827.5 510V517M828.5 516V520M829.5 510V519M830.5 519V520M831.5 506V517M832.5 509V517M833.5 512V521M834.5 516V517M835.5 514V515M836.5 513V520M837.5 511V516M838.5 512V519M839.5 513V517M840.5 506V518M841.5 506V518M842.5 520V521M843.5 515V516M844.5 506V519M845.5 511V521M846.5 514V515M847.5 514V515M848.5 513V521M849.5 518V519M850.5 508V518M851.5 512V519M852.5 507V517M853.5 520V521M854.5 518V519M855.5 514V518M856.5 506V518M857.5 512V517M858.5 508V521M859.5 514V521M860.5 508V518M861.5 511V520M862.5 519V520M863.5 515V516M864.5 514V515M865.5 515V518M866.5 507V520M867.5 519V520M868.5 513V516M869.5 518V519M870.5 506V515M871.5 516V517M872.5 514V515M873.5 507V516M874.5 514V521M875.5 511V518M876.5 508V516M877.5 506V515M878.5 514V515M879.5 506V517M880.5 519V520M881.5 519V520M882.5 516V517M883.5 520V521M884.5 520V521M885.5 508V515M886.5 514V515M887.5 512V517M888.5 520V521M889.5 509V519M890.5 506V515M891.5 516V517M892.5 510V515M893.5 514V521M894.5 509V519M895.5 510V520M896.5 519V520M897.5 512V516M898.5 519V520M899.5 506V517M900.5 515V520M901.5 510V515M902.5 507V519M903.5 506V516M904.5 514V519M905.5 519V520M906.5 511V519M907.5 514V515M908.5 514V515M909.5 506V515M910.5 512V515M911.5 513V516M912.5 515V519M913.5 519V520M914.5 516V517M915.5 519V520M916.5 507V520M917.5 508V515M918.5 507V520M919.5 518V519M920.5 517V521M921.5 515V520M922.5 514V520M923.5 506V515M924.5 509V517M925.5 518V519M926.5 516V517M927.5 507V517M928.5 510V521M929.5 506V519M930.5 518V519M931.5 513V520M932.5 506V518M933.5 507V520M934.5 517V520M935.5 506V518M936.5 516V520M937.5 513V516M938.5 520V521M939.5 506V516M940.5 517V518M941.5 514V515M942.5 510V521M943.5 507V516M944.5 513V516M945.5 506V517M946.5 515V516M947.5 519V520M948.5 511V518M949.5 507V520M950.5 520V521M951.5 509V515M952.5 509V519M953.5 516V517M954.5 512V519M955.5 511V515M956.5 508V515M957.5 514V515M958.5 506V516M959.5 506V519M960.5 512V519M961.5 512V518M962.5 513V518M963.5 512V521M964.5 520V521M965.5 510V515M966.5 511V516M967.5 506V518M968.5 517V521M969.5 510V521M970.5 512V520M971.5 513V519M972.5 510V517M973.5 517V518M974.5 512V515M975.5 519V520M976.5 509V519M977.5 509V518M978.5 510V516M979.5 506V516M980.5 520V521M981.5 508V515M982.5 517V521M983.5 509V519M984.5 506V516M985.5 506V518M108.5 476V514M107.5 499V515M109.5 493V513M110.5 495V514M107.5 492V516M106.5 501V512M109.5 501V513M196.5 490V514M197.5 497V514M198.5 497V516M198.5 477V512M199.5 490V514M202.5 491V515M203.5 500V510M218.5 486V508M217.5 500V514M269.5 492V514M285.5 492V510M284.5 499V512M286.5 500V509M292.5 494V514M294.5 501V508M300.5 493V513M299.5 501V511M301.5 500V508M322.5 492V511M323.5 498V510M333.5 489V509M334.5 501V510M359.5 494V513M360.5 501V516M379.5 498V509M380.5 501V509M400.5 489V511M399.5 499V508M420.5 491V511M421.5 497V509M426.5 491V514M425.5 500V512M456.5 491V513M455.5 498V513M457.5 502V510M464.5 491V515M463.5 500V510M466.5 498V511M467.5 476V510M466.5 499V516M523.5 483V512M532.5 490V515M531.5 499V509M533.5 500V508M534.5 499V511M534.5 470V514M536.5 495V511M591.5 478V509M592.5 494V508M593.5 495V511M601.5 476V511M600.5 496V512M602.5 494V515M605.5 493V510M604.5 501V508M607.5 500V512M666.5 493V516M665.5 500V512M668.5 476V516M667.5 497V509M673.5 494V508M672.5 503V516M675.5 501V515M762.5 483V514M761.5 494V515M763.5 500V516M764.5 498V515M800.5 489V512M799.5 498V511M802.5 498V513M822.5 491V512M821.5 497V516M867.5 494V516M866.5 500V513M868.5 501V516M895.5 487V509M894.5 496V508M896.5 496V509M934.5 491V509M940.5 489V513M939.5 501V514M941.5 497V509M942.5 500V510M962.5 486V511M964.5 496V516" stroke="#009e73" stroke-width="1" fill="none" shape-rendering="crispEdges"/>
<polyline fill="none" stroke="#009e73" stroke-width="1" shape-rendering="crispEdges" points="134.00,517.5 169.70,513.1"/>
<polyline fill="none" stroke="#009e73" stroke-width="1" shape-rendering="crispEdges" points="134.00,518.5 169.70,516.0"/>
<polyline fill="none" stroke="#009e73" stroke-width="1" shape-rendering="crispEdges" points="985.00,507.5 134.00,517.5"/>
<path d="M96.5 505V514M97.5 504V507M98.5 505V520M99.5 505V506M100.5 504V512M101.5 504V508M102.5 505V506M103.5 504V518M104.5 505V514M105.5 503V506M106.5 504V508M107.5 504V509M108.5 504V506M109.5 504V514M110.5 504V506M111.5 505V506M112.5 505V518M113.5 505V507M114.5 504V507M115.5 505V519M116.5 503V516M117.5 505V507M118.5 505V511M119.5 502V507M120.5 504V506M121.5 504V506M122.5 503V506M123.5 505V506M124.5 505V514M125.5 504V519M126.5 504V519M127.5 505V506M128.5 505V508M129.5 503V513M170.5 505V510M171.5 505V510M172.5 505V517M173.5 504V518M174.5 503V516M175.5 505V515M176.5 505V506M177.5 503V513M178.5 504V512M179.5 503V506M180.5 504V506M181.5 505V506M182.5 505V506M183.5 505V506M184.5 502V519M185.5 505V510M186.5 504V506M187.5 505V506M188.5 502V510M189.5 504V506M190.5 505V511M191.5 505V518M192.5 505V506M193.5 503V517M194.5 504V506M195.5 504V506M196.5 504V506M197.5 503V518M198.5 504V515M199.5 504V515M200.5 505V514M201.5 504V506M202.5 504V506M203.5 504V511M204.5 503V506M205.5 504V506M206.5 505V511M207.5 504V518M208.5 502V506M209.5 504V506M210.5 504V516M211.5 504V506M212.5 505V520M213.5 504V510M214.5 503V506M215.5 504V507M216.5 505V506M217.5 505V508M218.5 505V506M219.5 504V513M220.5 505V513M221.5 504V506M222.5 504V508M223.5 504V507M224.5 504V513M225.5 504V507M226.5 505V508M227.5 505V506M228.5 504V513M229.5 503V506M230.5 505V508M231.5 505V506M232.5 505V519M233.5 505V506M234.5 504V506M235.5 504V514M236.5 504V509M237.5 505V507M238.5 504V516M239.5 502V516M240.5 504V512M241.5 505V506M242.5 505V507M243.5 504V506M244.5 502V511M245.5 505V514M246.5 504V514M247.5 504V518M248.5 504V506M249.5 504V506M250.5 505V507M251.5 504V506M252.5 502V509M253.5 504V506M254.5 505V506M255.5 504V516M256.5 504V511M257.5 505V506M258.5 505V519M259.5 505V514M260.5 504V508M261.5 504V517M262.5 504V510M263.5 504V508M264.5 503V507M265.5 504V508M266.5 502V515M267.5 503V506M268.5 504V509M269.5 505V520M270.5 505V517M271.5 505V507M272.5 505V506M273.5 504V514M274.5 505V506M275.5 504V516M276.5 505V514M277.5 505V516M278.5 504V506M279.5 504V506M280.5 504V507M281.5 505V513M282.5 505V506M283.5 504V506M284.5 505V508M285.5 502V513M286.5 504V508M287.5 504V506M288.5 505V514M289.5 504V518M290.5 504V511M291.5 503V506M292.5 505V506M293.5 502V507M294.5 504V506M295.5 504V519M296.5 505V506M297.5 505V508M298.5 504V507M299.5 505V508M300.5 504V508M301.5 505V513M302.5 504V511M303.5 504V507M304.5 503V515M305.5 505V512M306.5 505V508M307.5 504V506M308.5 504V506M309.5 504V509M310.5 503V507M311.5 505V506M312.5 504V508M313.5 505V507M314.5 504V515M315.5 504V515M316.5 504V518M317.5 505V508M318.5 505V520M319.5 503V507M320.5 504V519M321.5 505V506M322.5 504V506M323.5 504V513M324.5 505V514M325.5 504V521M326.5 504V510M327.5 505V520M328.5 505V508M329.5 505V521M330.5 504V507M331.5 505V515M332.5 505V514M333.5 504V506M334.5 504V508M335.5 505V514M336.5 505V510M337.5 504V508M338.5 505V512M339.5 503V518M340.5 502V521M341.5 504V515M342.5 504V506M343.5 504V516M344.5 505V508M345.5 504V507M346.5 502V506M347.5 504V506M348.5 503V506M349.5 505V520M350.5 505V517M351.5 505V520M352.5 505V511M353.5 504V506M354.5 504V512M355.5 505V506M356.5 502V506M357.5 505V519M358.5 505V512M359.5 504V519M360.5 505V520M361.5 504V513M362.5 505V511M363.5 504V521M364.5 504V517M365.5 504V515M366.5 505V510M367.5 503V520M368.5 505V510M369.5 504V517M370.5 505V520M371.5 502V514M372.5 505V519M373.5 502V513M374.5 505V515M375.5 502V508M376.5 505V506M377.5 505V515M378.5 505V518M379.5 504V506M380.5 505V506M381.5 502V508M382.5 502V506M383.5 505V515M384.5 504V508M385.5 503V507M386.5 505V510M387.5 505V506M388.5 504V511M389.5 503V506M390.5 505V506M391.5 504V506M392.5 505V506M393.5 504V508M394.5 504V519M395.5 505V510M396.5 504V506M397.5 505V513M398.5 502V511M399.5 505V511M400.5 502V510M401.5 504V506M402.5 504V515M403.5 505V516M404.5 505V506M405.5 505V506M406.5 504V506M407.5 502V512M408.5 504V512M409.5 504V507M410.5 505V506M411.5 504V517M412.5 504V506M413.5 504V506M414.5 505V508M415.5 504V516M416.5 505V516M417.5 505V510M418.5 505V516M419.5 504V506M420.5 505V521M421.5 505V518M422.5 505V506M423.5 505V517M424.5 505V506M425.5 505V506M426.5 504V507M427.5 503V512M428.5 505V506M429.5 502V506M430.5 505V512M431.5 504V506M432.5 505V510M433.5 502V511M434.5 505V506M435.5 505V506M436.5 504V509M437.5 505V510M438.5 503V511M439.5 505V506M440.5 503V516M441.5 505V506M442.5 505V506M443.5 504V508M444.5 505V513M445.5 503V512M446.5 504V509M447.5 504V506M448.5 504V513M449.5 505V521M450.5 504V506M451.5 503V507M452.5 505V508M453.5 505V506M454.5 505V506M455.5 504V506M456.5 503V506M457.5 505V510M458.5 502V516M459.5 505V521M460.5 503V517M461.5 505V507M462.5 504V520M463.5 502V508M464.5 502V506M465.5 505V520M466.5 504V508M467.5 504V506M468.5 503V506M469.5 503V518M470.5 504V509M471.5 505V506M472.5 504V508M473.5 505V515M474.5 502V507M475.5 505V508M476.5 505V506M477.5 505V518M478.5 505V516M479.5 505V519M480.5 505V518M481.5 503V508M482.5 504V519M483.5 503V520M484.5 505V515M485.5 505V507M486.5 502V510M487.5 504V506M488.5 504V506M489.5 502V512M490.5 504V507M491.5 505V506M492.5 504V506M493.5 505V521M494.5 505V513M495.5 505V520M496.5 504V506M497.5 505V510M498.5 502V507M499.5 505V515M500.5 502V518M501.5 505V507M502.5 504V506M503.5 505V506M504.5 505V506M505.5 504V514M506.5 504V519M507.5 502V506M508.5 504V506M509.5 504V516M510.5 504V510M511.5 505V519M512.5 505V516M513.5 504V518M514.5 503V518M515.5 504V516M516.5 505V511M517.5 504V516M518.5 504V506M519.5 504V507M520.5 503V506M521.5 505V516M522.5 505V516M523.5 504V510M524.5 505V513M525.5 505V514M526.5 505V517M527.5 504V509M528.5 505V518M529.5 504V508M530.5 505V508M531.5 504V506M532.5 505V506M533.5 503V514M534.5 505V506M535.5 504V506M536.5 505V514M537.5 504V506M538.5 505V506M539.5 504V506M540.5 504V512M541.5 504V508M542.5 505V517M543.5 504V506M544.5 504V520M545.5 505V514M546.5 502V506M547.5 505V506M548.5 503V506M549.5 505V511M550.5 504V513M551.5 504V506M552.5 505V513M553.5 505V506M554.5 504V506M555.5 504V513M556.5 504V513M557.5 505V518M558.5 504V506M559.5 505V516M560.5 504V512M561.5 504V509M562.5 502V506M563.5 504V516M564.5 505V510M565.5 504V506M566.5 504V512M567.5 504V508M568.5 504V512M569.5 505V506M570.5 503V507M571.5 505V506M572.5 505V506M573.5 504V509M574.5 504V515M575.5 505V510M576.5 505V521M577.5 504V506M578.5 504V521M579.5 504V506M580.5 504V512M581.5 504V520M582.5 504V506M583.5 505V517M584.5 505V510M585.5 505V519M586.5 504V506M587.5 505V506M588.5 504V515M589.5 504V511M590.5 504V506M591.5 505V519M592.5 504V506M593.5 505V506M594.5 502V513M595.5 505V506M596.5 505V520M597.5 504V507M598.5 504V507M599.5 504V507M600.5 503V512M601.5 505V506M602.5 504V520M603.5 504V506M604.5 505V514M605.5 504V506M606.5 504V514M607.5 504V521M608.5 504V508M609.5 505V518M610.5 505V521M611.5 504V510M612.5 504V518M613.5 504V514M614.5 505V508M615.5 505V507M616.5 504V510M617.5 505V508M618.5 505V517M619.5 502V510M620.5 505V513M621.5 505V519M622.5 502V506M623.5 505V515M624.5 505V506M625.5 504V507M626.5 503V519M627.5 504V508M628.5 505V507M629.5 505V515M630.5 504V517M631.5 505V506M632.5 505V511M633.5 503V506M634.5 504V511M635.5 505V506M636.5 504V508M637.5 505V519M638.5 505V507M639.5 505V508M640.5 505V510M641.5 505V521M642.5 505V508M643.5 505V510M644.5 503V506M645.5 505V506M646.5 505V518M647.5 505V506M648.5 505V508M649.5 505V506M650.5 505V516M651.5 505V512M652.5 505V517M653.5 504V506M654.5 505V514M655.5 505V519M656.5 505V519M657.5 505V507M658.5 504V506M659.5 503V521M660.5 503V514M661.5 505V511M662.5 502V506M663.5 505V515M664.5 505V510M665.5 504V506M666.5 505V516M667.5 504V518M668.5 503V511M669.5 505V506M670.5 504V515M671.5 504V520M672.5 505V506M673.5 504V506M674.5 504V508M675.5 505V507M676.5 504V513M677.5 505V517M678.5 504V510M679.5 504V520M680.5 504V521M681.5 504V511M682.5 503V521M683.5 505V508M684.5 505V507M685.5 504V506M686.5 502V521M687.5 504V514M688.5 505V507M689.5 505V508M690.5 502V515M691.5 505V512M692.5 505V509M693.5 505V511M694.5 504V507M695.5 504V519M696.5 503V506M697.5 504V506M698.5 505V516M699.5 505V507M700.5 504V517M701.5 505V510M702.5 505V506M703.5 505V508M704.5 505V519M705.5 504V520M706.5 504V512M707.5 505V518M708.5 503V506M709.5 504V506M710.5 503V519M711.5 504V515M712.5 504V513M713.5 504V513M714.5 505V512M715.5 504V506M716.5 504V518M717.5 504V514M718.5 504V508M719.5 504V508M720.5 503V508M721.5 505V512M722.5 505V506M723.5 502V512M724.5 505V508M725.5 504V513M726.5 503V507M727.5 504V513M728.5 504V506M729.5 503V516M730.5 505V514M731.5 503V509M732.5 505V516M733.5 504V521M734.5 504V516M735.5 505V506M736.5 502V506M737.5 504V510M738.5 503V506M739.5 504V506M740.5 503V506M741.5 505V507M742.5 505V509M743.5 505V506M744.5 505V518M745.5 505V515M746.5 505V506M747.5 504V506M748.5 504V521M749.5 504V514M750.5 504V517M751.5 505V506M752.5 504V512M753.5 504V521M754.5 504V517M755.5 503V517M756.5 505V506M757.5 503V507M758.5 504V509M759.5 505V518M760.5 504V506M761.5 505V506M762.5 504V514M763.5 502V506M764.5 505V510M765.5 505V508M766.5 505V520M767.5 504V506M768.5 504V512M769.5 503V506M770.5 502V506M771.5 505V506M772.5 504V511M773.5 503V518M774.5 504V521M775.5 504V506M776.5 504V508M777.5 504V507M778.5 505V507M779.5 504V508M780.5 504V506M781.5 505V513M782.5 503V516M783.5 504V514M784.5 505V506M785.5 504V507M786.5 505V507M787.5 504V506M788.5 504V516M789.5 504V521M790.5 505V512M791.5 503V507M792.5 504V512M793.5 504V521M794.5 505V517M795.5 505V506M796.5 504V517M797.5 503V506M798.5 505V506M799.5 502V506M800.5 503V511M801.5 504V516M802.5 504V506M803.5 504V506M804.5 504V512M805.5 505V519M806.5 504V520M807.5 504V508M808.5 505V512M809.5 504V513M810.5 504V518M811.5 504V506M812.5 505V507M813.5 504V512M814.5 505V506M815.5 504V515M816.5 505V506M817.5 505V509M818.5 504V517M819.5 504V506M820.5 505V510M821.5 504V508M822.5 503V506M823.5 504V506M824.5 504V507M825.5 504V508M826.5 504V508M827.5 505V518M828.5 504V506M829.5 504V520M830.5 505V507M831.5 503V515M832.5 504V517M833.5 503V509M834.5 505V519M835.5 504V513M836.5 503V506M837.5 505V506M838.5 504V510M839.5 505V517M840.5 505V507M841.5 502V506M842.5 505V506M843.5 504V506M844.5 504V521M845.5 504V518M846.5 504V519M847.5 502V506M848.5 504V506M849.5 504V506M850.5 505V517M851.5 505V506M852.5 504V511M853.5 504V507M854.5 505V506M855.5 505V515M856.5 504V509M857.5 505V511M858.5 505V506M859.5 505V506M860.5 504V506M861.5 504V507M862.5 504V508M863.5 504V507M864.5 503V506M865.5 504V507M866.5 504V509M867.5 504V511M868.5 505V508M869.5 503V513M870.5 505V511M871.5 505V514M872.5 505V508M873.5 504V509M874.5 504V521M875.5 503V506M876.5 505V507M877.5 504V516M878.5 505V506M879.5 505V508M880.5 504V507M881.5 504V518M882.5 505V511M883.5 504V521M884.5 503V515M885.5 504V511M886.5 505V514M887.5 505V517M888.5 504V506M889.5 502V520M890.5 504V518M891.5 505V509M892.5 504V506M893.5 504V517M894.5 505V517M895.5 505V506M896.5 505V506M897.5 503V513M898.5 504V521M899.5 504V506M900.5 504V515M901.5 505V506M902.5 502V509M903.5 505V506M904.5 505V513M905.5 505V515M906.5 504V511M907.5 502V510M908.5 505V506M909.5 505V506M910.5 505V506M911.5 504V510M912.5 505V521M913.5 504V506M914.5 505V506M915.5 505V506M916.5 503V517M917.5 505V513M918.5 504V512M919.5 504V520M920.5 505V506M921.5 504V507M922.5 504V511M923.5 504V506M924.5 505V506M925.5 504V512M926.5 504V511M927.5 504V512M928.5 504V508M929.5 505V513M930.5 504V506M931.5 505V509M932.5 504V508M933.5 504V507M934.5 505V521M935.5 502V506M936.5 503V506M937.5 503V513M938.5 505V520M939.5 502V506M940.5 505V510M941.5 505V506M942.5 503V512M943.5 504V506M944.5 505V516M945.5 505V514M946.5 504V515M947.5 505V506M948.5 505V515M949.5 504V509M950.5 504V506M951.5 503V509M952.5 505V506M953.5 504V512M954.5 504V507M955.5 504V520M956.5 504V516M957.5 505V513M958.5 504V509M959.5 504V520M960.5 504V513M961.5 505V510M962.5 504V517M963.5 503V507M964.5 505V507M965.5 504V506M966.5 505V521M967.5 504V520M968.5 504V508M969.5 504V521M970.5 505V507M971.5 504V513M972.5 502V520M973.5 504V506M974.5 504V510M975.5 504V518M976.5 502V518M977.5 504V507M978.5 502V509M979.5 505V508M980.5 505V520M981.5 505V514M982.5 504V507M983.5 504V520M984.5 505V521M985.5 504V508M444.5 472V508M443.5 498V510M750.5 476V509M834.5 498V511M833.5 503V510M835.5 502V511M947.5 499V506M946.5 503V510M910.5 497V509" stroke="#56b4e9" stroke-width="1" fill="none" shape-rendering="crispEdges"/>
<polyline fill="none" stroke="#56b4e9" stroke-width="1" shape-rendering="crispEdges" points="95.50,506.5 170.00,506.5"/>
<polyline fill="none" stroke="#56b4e9" stroke-width="1" shape-rendering="crispEdges" points="170.00,506.5 985.60,505.0"/>
<rect x="163.5" y="418.5" width="12" height="12" fill="none" stroke="#e69f00" stroke-width="1" shape-rendering="crispEdges"/>
<rect x="163.0" y="468.0" width="13" height="13" fill="#f0e442" shape-rendering="crispEdges"/>
<rect x="487.0" y="468.0" width="13" height="13" fill="#f0e442" shape-rendering="crispEdges"/>
<rect x="912.0" y="468.0" width="13" height="13" fill="#f0e442" shape-rendering="crispEdges"/>
<use href="#oc" x="95" y="303" fill="#0072b2"/>
<use href="#oc" x="128" y="303" fill="#0072b2"/>
<use href="#oc" x="203" y="303" fill="#0072b2"/>
<use href="#oc" x="207" y="303" fill="#0072b2"/>
<use href="#oc" x="240" y="303" fill="#0072b2"/>
<use href="#oc" x="244" y="303" fill="#0072b2"/>
<use href="#oc" x="277" y="303" fill="#0072b2"/>
<use href="#oc" x="282" y="303" fill="#0072b2"/>
<use href="#oc" x="315" y="303" fill="#0072b2"/>
<use href="#oc" x="319" y="303" fill="#0072b2"/>
<use href="#oc" x="352" y="303" fill="#0072b2"/>
<use href="#oc" x="356" y="303" fill="#0072b2"/>
<use href="#oc" x="389" y="303" fill="#0072b2"/>
<use href="#oc" x="394" y="303" fill="#0072b2"/>
<use href="#oc" x="427" y="303" fill="#0072b2"/>
<use href="#oc" x="431" y="303" fill="#0072b2"/>
<use href="#oc" x="464" y="303" fill="#0072b2"/>
<use href="#oc" x="468" y="303" fill="#0072b2"/>
<use href="#oc" x="501" y="303" fill="#0072b2"/>
<use href="#oc" x="505" y="303" fill="#0072b2"/>
<use href="#oc" x="538" y="303" fill="#0072b2"/>
<use href="#oc" x="543" y="303" fill="#0072b2"/>
<use href="#oc" x="576" y="303" fill="#0072b2"/>
<use href="#oc" x="580" y="303" fill="#0072b2"/>
<use href="#oc" x="613" y="303" fill="#0072b2"/>
<use href="#oc" x="618" y="303" fill="#0072b2"/>
<use href="#oc" x="650" y="303" fill="#0072b2"/>
<use href="#oc" x="655" y="303" fill="#0072b2"/>
<use href="#oc" x="688" y="303" fill="#0072b2"/>
<use href="#oc" x="692" y="303" fill="#0072b2"/>
<use href="#oc" x="729" y="303" fill="#0072b2"/>
<use href="#oc" x="762" y="303" fill="#0072b2"/>
<use href="#oc" x="767" y="303" fill="#0072b2"/>
<use href="#oc" x="799" y="303" fill="#0072b2"/>
<use href="#oc" x="804" y="303" fill="#0072b2"/>
<use href="#oc" x="837" y="303" fill="#0072b2"/>
<use href="#oc" x="874" y="303" fill="#0072b2"/>
<use href="#oc" x="911" y="303" fill="#0072b2"/>
<use href="#oc" x="949" y="303" fill="#0072b2"/>
<use href="#oc" x="953" y="303" fill="#0072b2"/>
<use href="#oc" x="986" y="303" fill="#0072b2"/>
<use href="#oc" x="170" y="494" fill="#0072b2"/>
<use href="#oc" x="725" y="488" fill="#0072b2"/>
<use href="#oc" x="841" y="494" fill="#0072b2"/>
<use href="#oc" x="878" y="494" fill="#0072b2"/>
<use href="#oc" x="916" y="493" fill="#0072b2"/>
<use href="#fc" x="95" y="519" fill="#e51e10"/>
<use href="#fc" x="128" y="518" fill="#e51e10"/>
<use href="#fc" x="170" y="519" fill="#e51e10"/>
<use href="#fc" x="203" y="512" fill="#e51e10"/>
<use href="#fc" x="205" y="515" fill="#e51e10"/>
<use href="#fc" x="207" y="518" fill="#e51e10"/>
<use href="#fc" x="208" y="519" fill="#e51e10"/>
<use href="#fc" x="240" y="519" fill="#e51e10"/>
<use href="#fc" x="244" y="519" fill="#e51e10"/>
<use href="#fc" x="277" y="519" fill="#e51e10"/>
<use href="#fc" x="282" y="519" fill="#e51e10"/>
<use href="#fc" x="315" y="519" fill="#e51e10"/>
<use href="#fc" x="319" y="519" fill="#e51e10"/>
<use href="#fc" x="352" y="519" fill="#e51e10"/>
<use href="#fc" x="356" y="519" fill="#e51e10"/>
<use href="#fc" x="389" y="519" fill="#e51e10"/>
<use href="#fc" x="394" y="519" fill="#e51e10"/>
<use href="#fc" x="427" y="519" fill="#e51e10"/>
<use href="#fc" x="431" y="519" fill="#e51e10"/>
<use href="#fc" x="464" y="519" fill="#e51e10"/>
<use href="#fc" x="468" y="519" fill="#e51e10"/>
<use href="#fc" x="505" y="519" fill="#e51e10"/>
<use href="#fc" x="543" y="519" fill="#e51e10"/>
<use href="#fc" x="576" y="519" fill="#e51e10"/>
<use href="#fc" x="580" y="519" fill="#e51e10"/>
<use href="#fc" x="613" y="519" fill="#e51e10"/>
<use href="#fc" x="618" y="519" fill="#e51e10"/>
<use href="#fc" x="650" y="519" fill="#e51e10"/>
<use href="#fc" x="655" y="519" fill="#e51e10"/>
<use href="#fc" x="688" y="519" fill="#e51e10"/>
<use href="#fc" x="692" y="519" fill="#e51e10"/>
<use href="#fc" x="762" y="519" fill="#e51e10"/>
<use href="#fc" x="767" y="519" fill="#e51e10"/>
<use href="#fc" x="799" y="519" fill="#e51e10"/>
<use href="#fc" x="837" y="519" fill="#e51e10"/>
<use href="#fc" x="911" y="519" fill="#e51e10"/>
<use href="#fc" x="949" y="519" fill="#e51e10"/>
<use href="#fc" x="953" y="519" fill="#e51e10"/>
<use href="#fc" x="986" y="519" fill="#e51e10"/>
<use href="#fc" x="501" y="512" fill="#e51e10"/>
<use href="#fc" x="729" y="516" fill="#e51e10"/>
<use href="#fc" x="805" y="517" fill="#e51e10"/>
<use href="#fc" x="874" y="515" fill="#e51e10"/>
<use href="#fc" x="538" y="517" fill="#e51e10"/>
<use href="#fc" x="725" y="519" fill="#e51e10"/>
<use href="#fc" x="841" y="520" fill="#e51e10"/>
<use href="#fc" x="878" y="519" fill="#e51e10"/>
<use href="#fc" x="916" y="520" fill="#e51e10"/>
<path d="M169.5 444.5L177.5 456.5H161.5Z" fill="none" stroke="#000" stroke-width="1" stroke-linejoin="miter" shape-rendering="crispEdges"/>
<path d="M285.5 444.5L293.5 456.5H277.5Z" fill="none" stroke="#000" stroke-width="1" stroke-linejoin="miter" shape-rendering="crispEdges"/>
<path d="M326.5 444.5L334.5 456.5H318.5Z" fill="none" stroke="#000" stroke-width="1" stroke-linejoin="miter" shape-rendering="crispEdges"/>
<path d="M342.5 444.5L350.5 456.5H334.5Z" fill="none" stroke="#000" stroke-width="1" stroke-linejoin="miter" shape-rendering="crispEdges"/>
<path d="M163.0 413.5h13M169.5 407.0v13" stroke="#9400d3" stroke-width="1" shape-rendering="crispEdges"/>
<rect x="94.5" y="74.5" width="895.0" height="448.0" fill="none" stroke="#000" stroke-width="1" shape-rendering="crispEdges"/>
<path d="M923 90.5H970" stroke="#9400d3" stroke-width="1" shape-rendering="crispEdges"/>
<path d="M923 109.5H970" stroke="#009e73" stroke-width="1" shape-rendering="crispEdges"/>
<path d="M923 128.5H970" stroke="#56b4e9" stroke-width="1" shape-rendering="crispEdges"/>
<rect x="940.5" y="141.5" width="12" height="12" fill="none" stroke="#e69f00" stroke-width="1" shape-rendering="crispEdges"/>
<rect x="940.0" y="160.0" width="13" height="13" fill="#f0e442" shape-rendering="crispEdges"/>
<use href="#oc" x="946" y="185" fill="#0072b2"/>
<use href="#fc" x="946" y="204" fill="#e51e10"/>
<path d="M946.5 215.5L954.5 227.5H938.5Z" fill="none" stroke="#000" stroke-width="1" stroke-linejoin="miter" shape-rendering="crispEdges"/>
<path d="M940.0 242.5h13M946.5 236.0v13" stroke="#9400d3" stroke-width="1" shape-rendering="crispEdges"/>
</svg>
</body></html>
